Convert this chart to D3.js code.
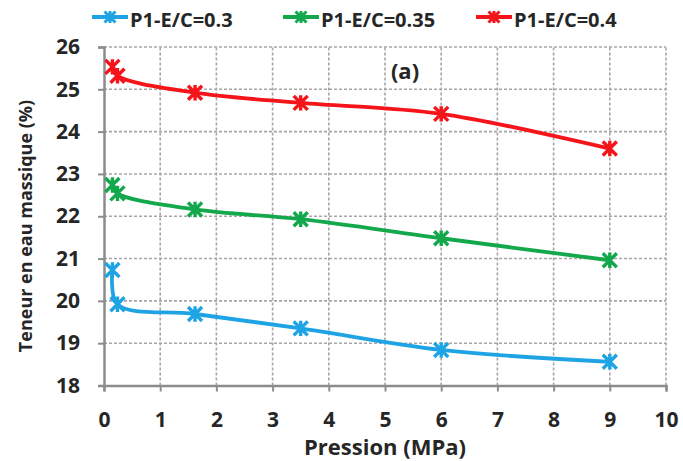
<!DOCTYPE html>
<html><head><meta charset="utf-8">
<script src="https://cdn.jsdelivr.net/npm/d3@7"></script>
<style>body{margin:0;background:#fff}svg{display:block}text{font-family:"Open Sans",sans-serif;font-weight:bold;fill:#262626}</style>
</head><body><svg id="c" width="683" height="461"></svg>
<script>
const seriesNames = ["P1-E/C=0.3", "P1-E/C=0.35", "P1-E/C=0.4"];
const seriesColors = ["#1ea4e4", "#14a84c", "#f5141a"];
const pressure = [0.15, 0.24, 1.62, 3.5, 6, 9];
const teneur03 = [20.73, 19.92, 19.69, 19.35, 18.84, 18.56];
const teneur035 = [22.74, 22.54, 22.16, 21.93, 21.48, 20.96];
const teneur04 = [25.53, 25.32, 24.92, 24.68, 24.42, 23.6];
const xTicks = [0,1,2,3,4,5,6,7,8,9,10];
const yTicks = [18,19,20,21,22,23,24,25,26];
const allSeries = [teneur03, teneur035, teneur04];

const svg = d3.select("#c");
const x = d3.scaleLinear().domain([0,10]).range([104,666]);
const y = d3.scaleLinear().domain([18,26]).range([385.5,47]);

// grid
svg.append("g").selectAll("line").data(xTicks.slice(1)).join("line")
  .attr("x1", d=>x(d)).attr("x2", d=>x(d)).attr("y1", y(18)).attr("y2", y(26))
  .attr("stroke","#a6a6a6").attr("stroke-width",1.6).attr("stroke-dasharray","3,2");
svg.append("g").selectAll("line").data(yTicks.slice(1)).join("line")
  .attr("x1", x(0)).attr("x2", x(10)).attr("y1", d=>y(d)).attr("y2", d=>y(d))
  .attr("stroke","#a6a6a6").attr("stroke-width",1.6).attr("stroke-dasharray","3,2");

// axes
const xAxis = svg.append("g").attr("transform",`translate(0,${y(18)})`)
  .call(d3.axisBottom(x).tickValues(xTicks).tickSize(6).tickPadding(21).tickFormat(d3.format("d")));
const yAxis = svg.append("g").attr("transform",`translate(${x(0)},0)`)
  .call(d3.axisLeft(y).tickValues(yTicks).tickSize(6).tickPadding(18).tickFormat(d3.format("d")));
[xAxis,yAxis].forEach(a=>{
  a.select(".domain").attr("stroke","#8c8c8c").attr("stroke-width",2.5);
  a.selectAll(".tick line").attr("stroke","#8c8c8c").attr("stroke-width",2);
  a.selectAll(".tick text").attr("font-size",21).attr("fill","#262626").style("font-family","'Open Sans',sans-serif");
});

// star marker path
function star(s){
  return `M${-s},${-s}L${s},${s}M${-s},${s}L${s},${-s}M0,${-s*1.1}L0,${s*1.1}`;
}

const line = d3.line().x((d,i)=>x(pressure[i])).y(d=>y(d)).curve(d3.curveCatmullRom.alpha(0.5));
allSeries.forEach((vals,k)=>{
  const g = svg.append("g");
  g.append("path").attr("d", line(vals)).attr("fill","none")
    .attr("stroke", seriesColors[k]).attr("stroke-width",3.8);
  g.selectAll("path.m").data(vals).join("path").attr("class","m")
    .attr("transform",(d,i)=>`translate(${x(pressure[i])},${y(d)})`)
    .attr("d", star(7)).attr("stroke", seriesColors[k]).attr("stroke-width",3.4).attr("fill","none");
});

// legend
const legX = [92, 283, 476];
seriesNames.forEach((n,k)=>{
  const g = svg.append("g").attr("transform",`translate(${legX[k]},17)`);
  g.append("line").attr("x1",0).attr("x2",36).attr("y1",0).attr("y2",0)
    .attr("stroke",seriesColors[k]).attr("stroke-width",3.8);
  g.append("path").attr("transform","translate(18,0)").attr("d",star(5.5))
    .attr("stroke",seriesColors[k]).attr("stroke-width",3).attr("fill","none");
  g.append("text").attr("x",38).attr("y",9.5).attr("font-size",20).text(n);
});

// annotation
svg.append("text").attr("x",405).attr("y",79).attr("text-anchor","middle").attr("font-size",22).text("(a)");

// titles
svg.append("text").attr("x",385).attr("y",455).attr("text-anchor","middle").attr("font-size",22).text("Pression (MPa)");
svg.append("text").attr("transform","translate(32,226) rotate(-90)").attr("text-anchor","middle").attr("font-size",18).text("Teneur en eau massique (%)");
</script></body></html>
